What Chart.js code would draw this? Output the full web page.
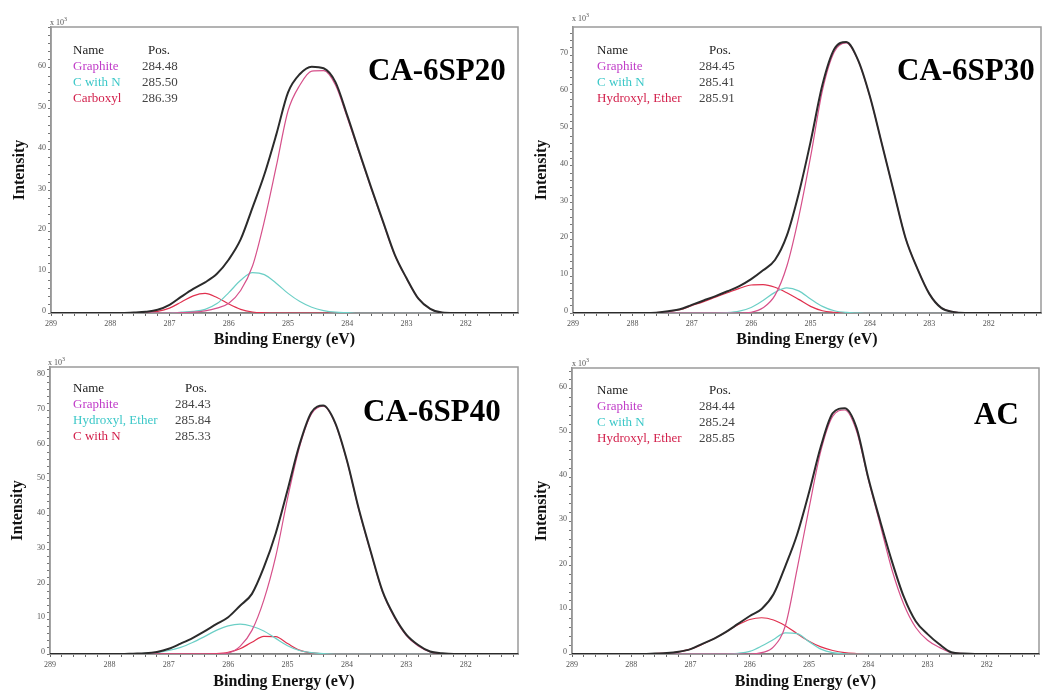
<!DOCTYPE html>
<html lang="en">
<head>
<meta charset="utf-8">
<title>XPS C 1s</title>
<script src="https://cdn.jsdelivr.net/npm/chart.js@4.4.1/dist/chart.umd.min.js"></script>
<style>
    html, body { margin: 0; padding: 0; background: #fff; }
    body {
        position: relative;
        width: 1059px;
        height: 691px;
        overflow: hidden;
        font-family: "Liberation Serif", "Times New Roman", serif;
    }
    .panel { position: absolute; }
    .muestra {
        position: absolute;
        font-size: 31px;
        font-weight: bold;
        line-height: 1;
        color: #000;
        white-space: nowrap;
    }
    .escala { position: absolute; font-size: 8px; line-height: 1; color: #555; }
    .escala sup { font-size: 6px; }
    .tabla { position: absolute; font-size: 13px; line-height: 16px; white-space: nowrap; color: #333; }
</style>
</head>
<body>

<div class="panel" style="left:0;top:0;width:530px;height:352px"><canvas id="grafica1"></canvas></div>
<div class="panel" style="left:529px;top:0;width:530px;height:352px"><canvas id="grafica2"></canvas></div>
<div class="panel" style="left:0;top:345px;width:530px;height:346px"><canvas id="grafica3"></canvas></div>
<div class="panel" style="left:529px;top:345px;width:530px;height:346px"><canvas id="grafica4"></canvas></div>

<script>
// ==============================
// DATOS
// ==============================
const energias = [289, 287.8, 287.6, 287.4, 287.2, 287.0, 286.8, 286.6, 286.4, 286.2, 286.0,
    285.8, 285.6, 285.4, 285.2, 285.0, 284.8, 284.6, 284.4, 284.2, 284.0,
    283.8, 283.6, 283.4, 283.2, 283.0, 282.8, 282.6, 282.4, 282.2, 281];

// CA-6SP20
const envolvente1 = [0, 0, 0.1, 0.3, 0.8, 2.0, 4.0, 5.9, 7.5, 9.6, 13.1, 18, 25.8, 33.9, 43.6, 54, 58.5, 60.3, 59.9, 56.5, 48.3, 39.5, 30.8, 22.5, 14.3, 8.5, 3.5, 1.0, 0.1, 0, 0];
const grafito1 = [0, 0, 0, 0, 0, 0, 0.1, 0.2, 0.5, 1.2, 2.4, 5.5, 11.5, 22.5, 35.8, 49.5, 55.8, 59.2, 59.3, 55.8, 47.8, 39.2, 30.6, 22.3, 14.2, 8.4, 3.5, 1.0, 0.1, 0, 0];
const conN1 = [0, 0, 0, 0, 0, 0, 0.2, 0.4, 0.9, 2.3, 5.0, 8.0, 9.9, 9.4, 7.3, 4.8, 2.8, 1.4, 0.6, 0.2, 0.1, 0, 0, 0, 0, 0, 0, 0, 0, 0, 0];
const carboxilo1 = [0, 0, 0, 0.1, 0.4, 1.2, 2.7, 4.2, 4.8, 3.8, 2.2, 0.9, 0.25, 0.05, 0, 0, 0, 0, 0, 0, 0, 0, 0, 0, 0, 0, 0, 0, 0, 0, 0];
const nombres1 = ["Graphite", "C with N", "Carboxyl"];
const posiciones1 = ["284.48", "285.50", "286.39"];

// CA-6SP30
const envolvente2 = [0, 0, 0.1, 0.5, 1.0, 2.2, 3.4, 4.6, 5.9, 7.3, 9.2, 11.6, 14.4, 21, 32.4, 46.5, 62, 71.7, 73.6, 68.7, 58.8, 46, 33, 20.3, 12, 5.2, 1.4, 0.3, 0, 0, 0];
const grafito2 = [0, 0, 0, 0, 0, 0, 0, 0, 0, 0, 0.2, 1.4, 4.8, 12.7, 26, 42.4, 60.5, 71, 73.4, 68.6, 58.7, 46, 33, 20.3, 12, 5.2, 1.4, 0.3, 0, 0, 0];
const conN2 = [0, 0, 0, 0, 0, 0, 0, 0, 0.1, 0.5, 1.5, 3.4, 5.6, 6.8, 6.0, 3.8, 1.8, 0.6, 0.15, 0.05, 0, 0, 0, 0, 0, 0, 0, 0, 0, 0, 0];
const hidroxilo2 = [0, 0, 0.1, 0.4, 0.9, 2.0, 3.1, 4.3, 5.5, 6.7, 7.6, 7.7, 7.0, 5.5, 3.7, 1.8, 0.6, 0.2, 0, 0, 0, 0, 0, 0, 0, 0, 0, 0, 0, 0, 0];
const nombres2 = ["Graphite", "C with N", "Hydroxyl, Ether"];
const posiciones2 = ["284.45", "285.41", "285.91"];

// CA-6SP40
const envolvente3 = [0, 0, 0.1, 0.2, 0.6, 1.5, 3.0, 4.6, 6.5, 8.6, 10.6, 13.9, 17.3, 24.9, 34.7, 47.2, 60.2, 69.5, 71.5, 66.6, 55.7, 41.7, 29.5, 18, 10.8, 5.6, 2.6, 0.7, 0.2, 0, 0];
const grafito3 = [0, 0, 0, 0, 0, 0, 0, 0, 0, 0, 0.3, 2.2, 6.8, 15.5, 28, 44.8, 59.5, 69, 71.3, 66.4, 55.5, 41.5, 29.3, 17.8, 10.5, 5.3, 2.3, 0.6, 0.1, 0, 0];
const hidroxilo3 = [0, 0, 0, 0.2, 0.4, 1.0, 1.9, 3.3, 5.0, 6.8, 8.1, 8.6, 8.0, 6.6, 4.5, 2.4, 1.0, 0.4, 0.1, 0, 0, 0, 0, 0, 0, 0, 0, 0, 0, 0, 0];
const conN3 = [0, 0, 0, 0, 0, 0, 0, 0, 0, 0.1, 0.5, 1.5, 3.4, 5.1, 5.0, 3.0, 1.1, 0.3, 0.1, 0, 0, 0, 0, 0, 0, 0, 0, 0, 0, 0, 0];
const nombres3 = ["Graphite", "Hydroxyl, Ether", "C with N"];
const posiciones3 = ["284.43", "285.84", "285.33"];

// AC
const envolvente4 = [0, 0, 0.1, 0.2, 0.5, 1.1, 2.3, 3.5, 5.0, 6.8, 8.6, 10.2, 13.5, 19.9, 27.1, 36.6, 47, 54.5, 55.6, 51.2, 39.8, 30.1, 20.9, 12.9, 7.4, 4.5, 2.2, 0.4, 0.1, 0, 0];
const grafito4 = [0, 0, 0, 0, 0, 0, 0, 0, 0, 0, 0, 0.3, 1.6, 6.4, 19.3, 33, 46, 53.8, 55.2, 50.5, 39.5, 29.3, 19, 11.2, 6.0, 3.1, 1.5, 0.3, 0.1, 0, 0];
const conN4 = [0, 0, 0, 0, 0, 0, 0, 0, 0, 0.15, 0.6, 1.8, 3.3, 4.8, 4.6, 2.8, 1.1, 0.3, 0.05, 0, 0, 0, 0, 0, 0, 0, 0, 0, 0, 0, 0];
const hidroxilo4 = [0, 0, 0.1, 0.2, 0.5, 1.1, 2.2, 3.5, 5.0, 6.6, 7.8, 8.2, 7.7, 6.4, 4.6, 2.9, 1.6, 0.8, 0.3, 0.1, 0, 0, 0, 0, 0, 0, 0, 0, 0, 0, 0];
const nombres4 = ["Graphite", "C with N", "Hydroxyl, Ether"];
const posiciones4 = ["284.44", "285.24", "285.85"];

const muestras = ["CA-6SP20", "CA-6SP30", "CA-6SP40", "AC"];

// colores de las componentes (1ª, 2ª, 3ª)
const coloresLinea = ["#d6508a", "#6ccfc6", "#e0304e"];
const coloresTexto = ["#c03cc8", "#3cc8c8", "#d21e4a"];


// ==============================
// MARCO DEL ÁREA DE LA GRÁFICA
// ==============================
const marco = {
    id: "marco",
    beforeDatasetsDraw(chart) {
        const { ctx, chartArea: a } = chart;
        ctx.save();
        ctx.strokeStyle = "#9a9a9a";
        ctx.lineWidth = 1.5;
        ctx.strokeRect(a.left, a.top, a.right - a.left, a.bottom - a.top);
        ctx.restore();
    }
};

function serie(valores) {
    return energias.map((e, i) => ({ x: e, y: valores[i] }));
}

function linea(nombre, valores, color, ancho) {
    return {
        label: nombre,
        data: serie(valores),
        borderColor: color,
        borderWidth: ancho,
        pointRadius: 0,
        fill: false,
        cubicInterpolationMode: "monotone"
    };
}

function crearGrafica(id, envolvente, componentes, nombres, yMax, caja) {
    const fuente = "'Liberation Serif', 'Times New Roman', serif";
    new Chart(document.getElementById(id), {
        type: "line",
        data: {
            datasets: [
                linea("Envelope", envolvente, "#2b2b2b", 2),
                linea(nombres[0], componentes[0], coloresLinea[0], 1.2),
                linea(nombres[1], componentes[1], coloresLinea[1], 1.2),
                linea(nombres[2], componentes[2], coloresLinea[2], 1.2)
            ]
        },
        options: {
            responsive: true,
            maintainAspectRatio: false,
            animation: false,
            layout: {
                padding: { left: 0, top: caja.arriba, right: caja.derecha, bottom: 0 }
            },
            plugins: {
                legend: { display: false },
                tooltip: { enabled: false }
            },
            scales: {
                x: {
                    type: "linear",
                    reverse: true,
                    min: 281.12,
                    max: 289,
                    afterFit: escala => { escala.height = caja.altoX; },
                    ticks: {
                        stepSize: 0.2,
                        includeBounds: false,
                        autoSkip: false,
                        maxRotation: 0,
                        minRotation: 0,
                        padding: 3,
                        color: "#555",
                        font: { family: fuente, size: 8 },
                        callback: v => Math.abs(v - Math.round(v)) < 0.001 ? String(Math.round(v)) : ""
                    },
                    grid: { drawOnChartArea: false, tickLength: 3, color: "#666" },
                    border: { color: "#333", width: 1.5 },
                    title: {
                        display: true,
                        text: "Binding Energy (eV)",
                        color: "#111",
                        font: { family: fuente, size: 16, weight: "bold", lineHeight: 1 },
                        padding: { top: 0, bottom: caja.padX }
                    }
                },
                y: {
                    min: 0,
                    max: yMax,
                    afterFit: escala => { escala.width = caja.anchoY; },
                    ticks: {
                        stepSize: 2,
                        includeBounds: false,
                        autoSkip: false,
                        padding: 2,
                        labelOffset: -2,
                        color: "#555",
                        font: { family: fuente, size: 8 },
                        callback: v => (Math.abs(v % 10) < 0.001 && v < yMax - 1) ? String(Math.round(v)) : ""
                    },
                    grid: { drawOnChartArea: false, tickLength: 3, color: "#777" },
                    border: { color: "#8a8a8a", width: 1.5 },
                    title: {
                        display: true,
                        text: "Intensity",
                        color: "#111",
                        font: { family: fuente, size: 16, weight: "bold", lineHeight: 1 },
                        padding: { top: caja.padY, bottom: 0 }
                    }
                }
            }
        },
        plugins: [marco]
    });
}


// ==============================
// GRÁFICA 1: CA-6SP20
// ==============================
crearGrafica("grafica1", envolvente1, [grafito1, conN1, carboxilo1], nombres1, 70,
    { arriba: 27, derecha: 12, anchoY: 51, altoX: 39, padX: 4, padY: 12 });

// ==============================
// GRÁFICA 2: CA-6SP30
// ==============================
crearGrafica("grafica2", envolvente2, [grafito2, conN2, hidroxilo2], nombres2, 77.7,
    { arriba: 27, derecha: 18, anchoY: 44, altoX: 39, padX: 4, padY: 5 });

// ==============================
// GRÁFICA 3: CA-6SP40
// ==============================
crearGrafica("grafica3", envolvente3, [grafito3, hidroxilo3, conN3], nombres3, 82.6,
    { arriba: 22, derecha: 12, anchoY: 50, altoX: 37, padX: 1, padY: 10 });

// ==============================
// GRÁFICA 4: AC
// ==============================
crearGrafica("grafica4", envolvente4, [grafito4, conN4, hidroxilo4], nombres4, 64.7,
    { arriba: 23, derecha: 20, anchoY: 43, altoX: 37, padX: 1, padY: 4.5 });


// ==============================
// TEXTOS: TABLA DE PICOS, x10^3 Y MUESTRA
// ==============================
const textos = [
    { nombres: nombres1, pos: posiciones1, xNom: 73, xPos: 142, xCab: 148, y: 42, esc: [50, 16], mue: [368, 54] },
    { nombres: nombres2, pos: posiciones2, xNom: 597, xPos: 699, xCab: 709, y: 42, esc: [572, 12], mue: [897, 54] },
    { nombres: nombres3, pos: posiciones3, xNom: 73, xPos: 175, xCab: 185, y: 380, esc: [48, 356], mue: [363, 395] },
    { nombres: nombres4, pos: posiciones4, xNom: 597, xPos: 699, xCab: 709, y: 382, esc: [572, 357], mue: [974, 398] }
];

function agregar(clase, html, x, y, color) {
    const d = document.createElement("div");
    d.className = clase;
    d.innerHTML = html;
    d.style.left = x + "px";
    d.style.top = y + "px";
    if (color) d.style.color = color;
    document.body.appendChild(d);
}

textos.forEach((t, k) => {
    agregar("tabla", "Name", t.xNom, t.y, "#222");
    agregar("tabla", "Pos.", t.xCab, t.y, "#222");
    t.nombres.forEach((n, i) => {
        agregar("tabla", n, t.xNom, t.y + 16 * (i + 1), coloresTexto[i]);
        agregar("tabla", t.pos[i], t.xPos, t.y + 16 * (i + 1), "#444");
    });
    agregar("escala", "x 10<sup>3</sup>", t.esc[0], t.esc[1]);
    agregar("muestra", muestras[k], t.mue[0], t.mue[1]);
});
</script>
</body>
</html>
